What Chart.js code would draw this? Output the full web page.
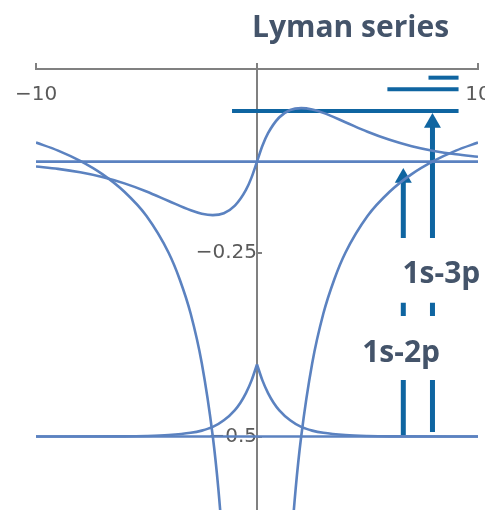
<!DOCTYPE html>
<html>
<head>
<meta charset="utf-8">
<script src="https://cdn.jsdelivr.net/npm/chart.js@4/dist/chart.umd.min.js"></script>
<style>
  html, body { margin: 0; padding: 0; background: #ffffff; }
  #wrap { width: 485px; height: 510px; }
</style>
</head>
<body>
<div id="wrap"><canvas id="c" width="485" height="510"></canvas></div>
<script>
// Axis ticks
const xTicks = [-10, 0, 10];
const yTicks = [-0.5, -0.25];

// Coulomb potential -1/|x|, one array per branch
const potentialLeft = [[-10, -0.100], [-9, -0.111], [-8, -0.125], [-7, -0.143], [-6, -0.167], [-5, -0.200],
  [-4, -0.250], [-3.5, -0.286], [-3, -0.333], [-2.5, -0.400], [-2, -0.500], [-1.75, -0.571], [-1.5, -0.667], [-1.3, -0.769]];
const potentialRight = [[1.3, -0.769], [1.5, -0.667], [1.75, -0.571], [2, -0.500], [2.5, -0.400], [3, -0.333],
  [3.5, -0.286], [4, -0.250], [5, -0.200], [6, -0.167], [7, -0.143], [8, -0.125], [9, -0.111], [10, -0.100]];

// Energy levels drawn across the whole range
const level1s = [[-10, -0.5], [10, -0.5]];
const level2 = [[-10, -0.126], [10, -0.126]];

// 1s state on its level (cusp at the nucleus), left and right halves
const state1sLeft = [[-10, -0.500], [-6, -0.4998], [-5, -0.4993], [-4, -0.498], [-3, -0.495], [-2.5, -0.492],
  [-2, -0.487], [-1.5, -0.478], [-1, -0.464], [-0.75, -0.454], [-0.5, -0.441], [-0.25, -0.424], [0, -0.402]];
const state1sRight = [[0, -0.402], [0.25, -0.424], [0.5, -0.441], [0.75, -0.454], [1, -0.464], [1.5, -0.478],
  [2, -0.487], [2.5, -0.492], [3, -0.495], [4, -0.498], [5, -0.4993], [6, -0.4998], [10, -0.500]];

// 2p state on its level
const state2p = [[-10, -0.1327], [-9, -0.1359], [-8, -0.1405], [-7, -0.1469], [-6, -0.1556], [-5, -0.1666],
  [-4, -0.1796], [-3, -0.1923], [-2.5, -0.1969], [-2, -0.1988], [-1.5, -0.1962], [-1, -0.186], [-0.5, -0.1646],
  [-0.25, -0.1478], [0, -0.126], [0.25, -0.1042], [0.5, -0.0874], [1, -0.066], [1.5, -0.0558], [2, -0.0532],
  [2.5, -0.0551], [3, -0.0597], [4, -0.0724], [5, -0.0854], [6, -0.0964], [7, -0.1051], [8, -0.1115],
  [9, -0.1161], [10, -0.1193]];

// Upper levels marked for the Lyman series (n = 3, 4, 5)
const levelN3 = [[-1.13, -0.057], [9.12, -0.057]];
const levelN4 = [[5.9, -0.0276], [9.12, -0.0276]];
const levelN5 = [[7.76, -0.0118], [9.12, -0.0118]];

// Transition arrows: head first, then shaft pieces (null = break for the labels)
const arrow2p = [[6.62, -0.148], [6.62, -0.230], [6.62, null], [6.62, -0.318], [6.62, -0.336], [6.62, null],
  [6.62, -0.423], [6.62, -0.500]];
const arrow3p = [[7.94, -0.0732], [7.94, -0.230], [7.94, null], [7.94, -0.318], [7.94, -0.336], [7.94, null],
  [7.94, -0.423], [7.94, -0.494]];

const transitionLabels = [
  { text: '1s-3p', x: 6.58, y: -0.291 },
  { text: '1s-2p', x: 4.76, y: -0.398 }
];
const titleText = 'Lyman series';

const curveColor = '#5b82c0';
const arrowColor = '#0f65a1';
const textColor = '#44546a';
const axisColor = '#808080';
const tickLabelColor = '#5a5a5a';

const toXY = pts => pts.map(p => ({ x: p[0], y: p[1] }));

function curve(pts, smooth) {
  return {
    data: toXY(pts),
    borderColor: curveColor,
    borderWidth: 2.6,
    pointRadius: 0,
    fill: false,
    tension: 0,
    cubicInterpolationMode: smooth ? 'monotone' : 'default'
  };
}

function levelMark(pts) {
  return {
    data: toXY(pts),
    borderColor: arrowColor,
    borderWidth: 4,
    borderCapStyle: 'butt',
    pointRadius: 0,
    fill: false
  };
}

function arrow(pts) {
  return {
    data: toXY(pts),
    borderColor: arrowColor,
    borderWidth: 5,
    borderCapStyle: 'butt',
    spanGaps: false,
    fill: false,
    pointStyle: 'triangle',
    pointRadius: ctx => (ctx.dataIndex === 0 ? 9.8 : 0),
    pointBorderWidth: 0,
    pointBackgroundColor: arrowColor,
    pointBorderColor: arrowColor
  };
}

const minusSign = v => (v < 0 ? '\u2212' + String(-v) : String(v));

// Axes crossing inside the plot should not take any room from it
function noRoom(scale) {
  if (scale.isHorizontal()) { scale.height = 0; } else { scale.width = 0; }
  scale.paddingLeft = 0; scale.paddingRight = 0;
  scale.paddingTop = 0; scale.paddingBottom = 0;
}

const textPlugin = {
  id: 'lymanText',
  afterDatasetsDraw(chart) {
    const { ctx, scales } = chart;
    ctx.save();
    ctx.fillStyle = textColor;
    ctx.font = 'bold 30px "Open Sans"';
    ctx.textBaseline = 'alphabetic';
    ctx.textAlign = 'left';
    ctx.fillText(titleText, 252, 37);
    transitionLabels.forEach(l => {
      ctx.fillText(l.text, scales.x.getPixelForValue(l.x), scales.y.getPixelForValue(l.y));
    });
    ctx.restore();
  }
};

new Chart(document.getElementById('c'), {
  type: 'line',
  data: {
    datasets: [
      curve(potentialLeft, true),
      curve(potentialRight, true),
      curve(level1s, false),
      curve(level2, false),
      curve(state1sLeft, true),
      curve(state1sRight, true),
      curve(state2p, true),
      levelMark(levelN3),
      levelMark(levelN4),
      levelMark(levelN5),
      arrow(arrow2p),
      arrow(arrow3p)
    ]
  },
  options: {
    responsive: false,
    animation: false,
    devicePixelRatio: 1,
    layout: { autoPadding: false, padding: { left: 36, right: 7, top: 69, bottom: 0 } },
    plugins: { legend: { display: false }, tooltip: { enabled: false }, title: { display: false } },
    events: [],
    scales: {
      x: {
        type: 'linear',
        min: -10,
        max: 10,
        position: { y: 0 },
        border: { display: true, color: axisColor, width: 2 },
        grid: { display: true, drawOnChartArea: false, drawTicks: true, tickLength: -7, color: axisColor, lineWidth: 2 },
        afterBuildTicks: s => { s.ticks = xTicks.map(v => ({ value: v })); },
        afterFit: noRoom,
        ticks: {
          autoSkip: false, maxRotation: 0, padding: 21,
          color: tickLabelColor,
          font: { family: 'DejaVu Sans', size: 20 },
          callback: v => (v === 0 ? '' : minusSign(v))
        }
      },
      y: {
        type: 'linear',
        min: -0.6,
        max: 0,
        position: { x: 0 },
        border: { display: true, color: axisColor, width: 2 },
        grid: { display: true, drawOnChartArea: false, drawTicks: true, tickLength: -6, color: axisColor, lineWidth: 2 },
        afterBuildTicks: s => { s.ticks = yTicks.map(v => ({ value: v })); },
        afterFit: noRoom,
        ticks: {
          autoSkip: false, padding: 15,
          color: tickLabelColor,
          font: { family: 'DejaVu Sans', size: 20 },
          callback: v => minusSign(v)
        }
      }
    }
  },
  plugins: [textPlugin]
});
</script>
</body>
</html>
